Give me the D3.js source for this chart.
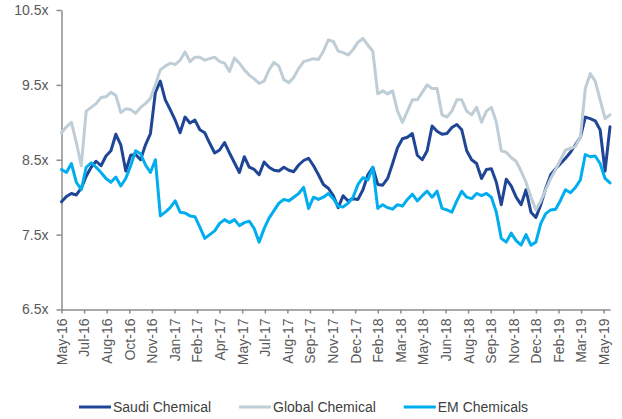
<!DOCTYPE html>
<html>
<head>
<meta charset="utf-8">
<script src="https://cdn.jsdelivr.net/npm/d3@7/dist/d3.min.js"></script>
<style>
  body { margin: 0; background: #fff; }
  svg { display: block; font-family: "Liberation Sans", Arial, sans-serif; }
</style>
</head>
<body>
<svg id="chart" width="622" height="419"></svg>
<script>
// Axis labels, one every 32 trading days
const tickLabels = [
  "May-16", "Jul-16", "Aug-16", "Oct-16", "Nov-16", "Jan-17", "Feb-17", "Apr-17",
  "May-17", "Jul-17", "Aug-17", "Sep-17", "Nov-17", "Dec-17", "Feb-18", "Mar-18",
  "May-18", "Jun-18", "Aug-18", "Sep-18", "Nov-18", "Dec-18", "Feb-19", "Mar-19", "May-19"
];
const tickStep = 32;    // trading days between axis labels
const sampleStep = 7;   // trading days between samples
const yTicks = [6.5, 7.5, 8.5, 9.5, 10.5];

// Forward P/E multiples, sampled every 7 trading days
const saudi = [
  7.94, 8.01, 8.05, 8.03, 8.12, 8.28, 8.40, 8.48, 8.42, 8.55,
  8.62, 8.84, 8.70, 8.35, 8.56, 8.57, 8.50, 8.70, 8.85, 9.40,
  9.55, 9.30, 9.17, 9.03, 8.86, 9.07, 8.99, 9.03, 8.90, 8.86,
  8.72,
  8.59, 8.63, 8.73, 8.59, 8.46, 8.33, 8.54, 8.40, 8.37, 8.30,
  8.47, 8.40, 8.36, 8.35, 8.40, 8.36, 8.34, 8.43, 8.49, 8.52,
  8.42, 8.30, 8.17, 8.12, 8.02, 7.86, 8.02, 7.95, 7.98, 7.97,
  8.10, 8.30, 8.40, 8.17, 8.16, 8.25, 8.45, 8.66, 8.78, 8.80,
  8.85, 8.56, 8.50, 8.62, 8.95, 8.88, 8.84, 8.85, 8.93, 8.97,
  8.90, 8.62, 8.50, 8.45, 8.25, 8.37, 8.38, 8.20, 7.90, 8.24,
  8.15, 8.00, 7.90, 8.10, 7.80, 7.73, 7.90, 8.12, 8.30, 8.38,
  8.45, 8.52, 8.60, 8.70, 8.80, 9.07, 9.05, 9.02, 8.90, 8.35, 8.94
];
const globalChem = [
  8.86, 8.94, 9.00, 8.73, 8.42, 9.15, 9.20, 9.25, 9.33, 9.34,
  9.40, 9.36, 9.13, 9.18, 9.17, 9.12, 9.20, 9.25, 9.32, 9.50,
  9.70, 9.75, 9.79, 9.77, 9.83, 9.94, 9.81, 9.87, 9.87, 9.83,
  9.85,
  9.87, 9.81, 9.79, 9.68, 9.86, 9.79, 9.70, 9.63, 9.58, 9.52,
  9.55, 9.70, 9.80, 9.75, 9.57, 9.53, 9.60, 9.72, 9.81, 9.83,
  9.85, 9.84, 9.95, 10.10, 10.08, 9.95, 9.93, 9.90, 9.97, 10.07,
  10.12, 10.03, 9.95, 9.38, 9.42, 9.38, 9.42, 9.15, 9.00, 9.15,
  9.30, 9.30, 9.40, 9.50, 9.45, 9.45, 9.10, 9.07, 9.15, 9.30,
  9.30, 9.15, 9.10, 9.20, 9.00, 9.15, 9.20, 9.00, 8.62, 8.60,
  8.53, 8.48, 8.35, 8.20, 8.00, 7.83, 7.95, 8.10, 8.25, 8.37,
  8.50, 8.63, 8.65, 8.68, 8.80, 9.45, 9.65, 9.55, 9.30, 9.05, 9.10
];
const emChem = [
  8.37, 8.33, 8.45, 8.20, 8.10, 8.40, 8.46, 8.40, 8.33, 8.25,
  8.20, 8.27, 8.15, 8.25, 8.42, 8.62, 8.58, 8.43, 8.33, 8.50,
  7.75, 7.80, 7.86, 7.95, 7.80, 7.79, 7.75, 7.74, 7.60, 7.45,
  7.50,
  7.55, 7.65, 7.70, 7.66, 7.70, 7.62, 7.66, 7.68, 7.58, 7.40,
  7.58, 7.72, 7.82, 7.92, 7.97, 7.95, 8.00, 8.05, 8.13, 7.85,
  8.00, 7.97, 8.00, 8.05, 7.98, 7.88, 7.87, 7.92, 8.00, 8.17,
  8.26, 8.23, 8.40, 7.85, 7.90, 7.86, 7.84, 7.90, 7.88, 7.97,
  8.04, 7.95, 8.02, 8.08, 8.00, 8.08, 7.85, 7.83, 7.80, 7.95,
  8.08, 8.00, 7.98, 8.05, 8.02, 8.05, 8.00, 7.80, 7.45, 7.40,
  7.52, 7.42, 7.36, 7.50, 7.36, 7.40, 7.65, 7.78, 7.83, 7.84,
  7.96, 8.10, 8.06, 8.13, 8.23, 8.57, 8.54, 8.55, 8.45, 8.25, 8.19
];

const seriesNames = ["Saudi Chemical", "Global Chemical", "EM Chemicals"];
const seriesColors = ["#1f4597", "#bfcdd6", "#00aeef"];
const seriesValues = [saudi, globalChem, emChem];

const lastDay = (saudi.length - 1) * sampleStep;

const svg = d3.select("#chart");
const axisColor = "#8c8c8c";

const x = d3.scaleLinear().domain([0, lastDay]).range([61.5, 610]);
const y = d3.scaleLinear().domain([6.5, 10.5]).range([309.5, 10]);

// Y axis
const yAxis = svg.append("g")
  .attr("transform", "translate(61.5,0)")
  .call(d3.axisLeft(y).tickValues(yTicks).tickFormat(d => d.toFixed(1) + "x")
    .tickSize(5).tickSizeOuter(0).tickPadding(8));
yAxis.selectAll("path, line").attr("stroke", axisColor).attr("stroke-width", 1.5);
yAxis.selectAll("text").attr("fill", "#595959").style("font-size", "14px");

// X axis
const xAxis = svg.append("g")
  .attr("transform", "translate(0,309.5)")
  .call(d3.axisBottom(x)
    .tickValues(d3.range(tickLabels.length).map(i => i * tickStep))
    .tickFormat(d => tickLabels[d / tickStep])
    .tickSize(4).tickSizeOuter(0));
xAxis.selectAll("path, line").attr("stroke", axisColor).attr("stroke-width", 1.5);
xAxis.selectAll("text")
  .attr("fill", "#595959")
  .style("font-size", "14px")
  .attr("x", 0).attr("y", 0)
  .attr("dy", "0.35em")
  .attr("text-anchor", "end")
  .attr("transform", "translate(0,9) rotate(-90)");

// Lines
const line = d3.line()
  .x((d, i) => x(i * sampleStep))
  .y(d => y(d));

svg.append("g").selectAll("path")
  .data(seriesValues)
  .join("path")
  .attr("d", line)
  .attr("fill", "none")
  .attr("stroke", (d, i) => seriesColors[i])
  .attr("stroke-width", 3)
  .attr("stroke-linejoin", "round")
  .attr("stroke-linecap", "round");

// Legend
const legend = svg.append("g").attr("transform", "translate(79,407)");
let lx = 0;
seriesNames.forEach((name, i) => {
  const g = legend.append("g").attr("transform", `translate(${lx},0)`);
  g.append("line")
    .attr("x1", 0).attr("x2", 32).attr("y1", 0).attr("y2", 0)
    .attr("stroke", seriesColors[i]).attr("stroke-width", 3);
  const t = g.append("text")
    .attr("x", 34).attr("y", 0).attr("dy", "0.35em")
    .attr("fill", "#404040")
    .style("font-size", "14px")
    .text(name);
  lx += 34 + t.node().getComputedTextLength() + 28;
});
</script>
</body>
</html>
